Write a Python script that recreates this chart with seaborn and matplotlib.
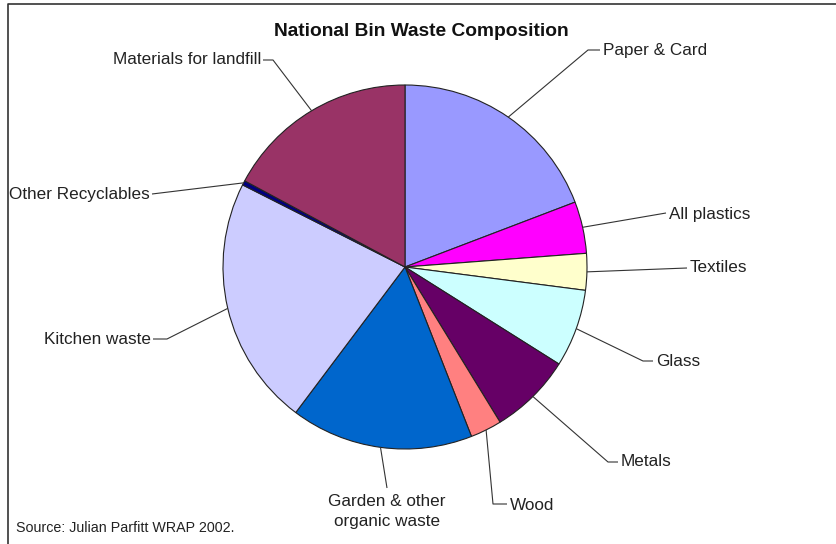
import matplotlib
matplotlib.use("Agg")
import matplotlib.pyplot as plt
import seaborn as sns
import numpy as np

# ---- data ----
categories = ["Paper & Card", "All plastics", "Textiles", "Glass", "Metals", "Wood",
              "Garden & other\norganic waste", "Kitchen waste", "Other Recyclables",
              "Materials for landfill"]
shares = [19.2, 4.6, 3.25, 6.9, 7.3, 2.8, 16.2, 22.2, 0.4, 17.15]
colors = ["#9999FF", "#FF00FF", "#FFFFCC", "#CCFFFF", "#660066", "#FF8080",
          "#0066CC", "#CCCCFF", "#000080", "#993366"]
title = "National Bin Waste Composition"
source = "Source: Julian Parfitt WRAP 2002."

# ---- layout (pixel coordinates, y measured from top) ----
W, H = 836, 544
CX, CY, R = 405, 267, 182
# (elbow point, line end, text anchor, ha, va)
label_layout = [
    ((588, 50), (600, 50), (603, 50), "left", "center"),
    ((666, 213), (666, 213), (669, 214), "left", "center"),
    ((687, 268), (687, 268), (690, 268), "left", "center"),
    ((643, 361), (653, 361), (656, 361), "left", "center"),
    ((608, 462), (618, 462), (621, 462), "left", "center"),
    ((493, 504), (507, 504), (510, 505), "left", "center"),
    ((387, 488), (387, 488), (387, 494), "center", "top"),
    ((167, 339), (153, 339), (151, 339), "right", "center"),
    ((152, 194), (152, 194), (150, 194), "right", "center"),
    ((273, 60), (263, 60), (261, 60), "right", "center"),
]

sns.set_theme(style="white")
plt.rcParams["font.family"] = ["Liberation Sans", "DejaVu Sans"]

fig = plt.figure(figsize=(W / 100, H / 100), dpi=100)
ax = fig.add_axes([0, 0, 1, 1])

def fy(py):
    return H - py

wedges, _ = ax.pie(shares, colors=colors, startangle=90, counterclock=False,
                   center=(CX, fy(CY)), radius=R, frame=True,
                   wedgeprops=dict(edgecolor="#222222", linewidth=0.8))

line_col = "#333333"
for w, lab, (elb, end, txt, ha, va) in zip(wedges, categories, label_layout):
    mid = np.deg2rad((w.theta1 + w.theta2) / 2)
    ax0 = CX + R * np.cos(mid)
    ay0 = fy(CY) + R * np.sin(mid)
    ax.plot([ax0, elb[0], end[0]], [ay0, fy(elb[1]), fy(end[1])],
            color=line_col, lw=0.8, solid_capstyle="butt")
    ax.text(txt[0], fy(txt[1]), lab, ha=ha, va=va, fontsize=12.3,
            color="#222222", linespacing=1.4, multialignment="center")

ax.text(421, fy(32), title, ha="center", va="center", fontsize=13.8,
        fontweight="bold", color="#111111")
ax.text(16, fy(528), source, ha="left", va="center", fontsize=10.3,
        color="#222222")

# outer border (left and top visible)
ax.plot([7.5, 7.5, 900], [fy(560), fy(4), fy(4)], color="#333333", lw=1.2)

ax.set_xlim(0, W)
ax.set_ylim(0, H)
ax.set_aspect("auto")
ax.axis("off")

fig.savefig("out.png", dpi=100)
